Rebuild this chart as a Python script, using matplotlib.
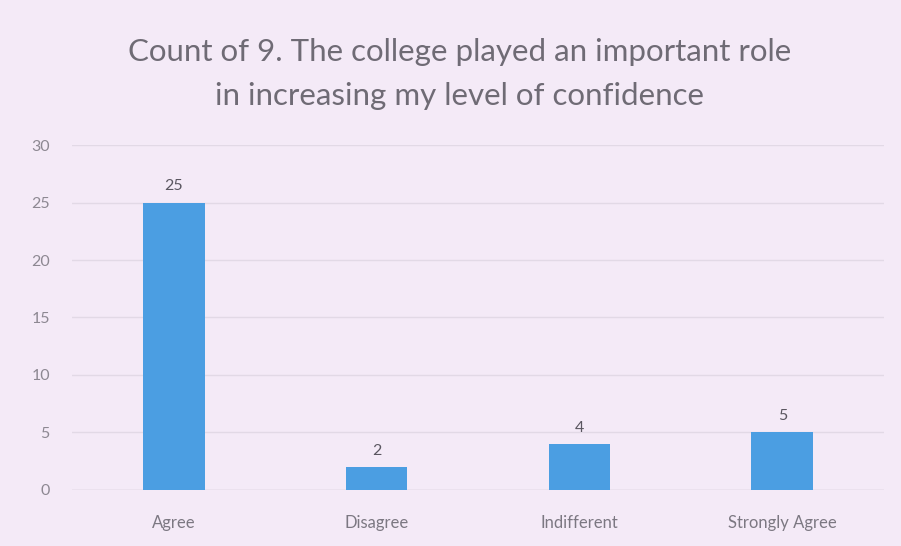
import matplotlib
matplotlib.use("Agg")
import matplotlib.pyplot as plt

categories = ["Agree", "Disagree", "Indifferent", "Strongly Agree"]
counts = [25, 2, 4, 5]
yticks = [0, 5, 10, 15, 20, 25, 30]
title = "Count of 9. The college played an important role\nin increasing my level of confidence"

bg = "#f4eaf7"
bar_color = "#4b9ee2"
text_color = "#6f6b75"

plt.rcParams['font.family'] = ['Lato', 'DejaVu Sans']

fig = plt.figure(figsize=(9.01, 5.46), dpi=100, facecolor=bg)
ax = fig.add_axes([0.08, 0.1026, 0.901, 0.6318])
ax.set_facecolor(bg)

x = list(range(len(categories)))
bars = ax.bar(x, counts, width=0.305, color=bar_color, zorder=3)
for xi, v in zip(x, counts):
    ax.text(xi, v + 0.8, str(v), ha="center", va="bottom", fontsize=11.5, color="#5a5660")

ax.set_xlim(-0.5, len(categories) - 0.5)
ax.set_ylim(0, 30)
ax.set_yticks(yticks)
ax.set_yticklabels([str(t) for t in yticks], fontsize=11.5, color="#8d8892")
ax.set_xticks(x)
ax.set_xticklabels(categories, fontsize=12, color="#7c7882")
ax.tick_params(axis="y", length=0, pad=16)
ax.tick_params(axis="x", length=0, pad=18)
ax.grid(axis="y", color="#e2d9e6", linewidth=1, zorder=0)
for s in ax.spines.values():
    s.set_visible(False)
ax.axhline(0, color="#d9d0dd", linewidth=1, zorder=2)

fig.text(0.51, 0.93, title, ha="center", va="top", fontsize=22.5, color=text_color, linespacing=1.7)

fig.savefig("out.png", dpi=100, facecolor=bg)
